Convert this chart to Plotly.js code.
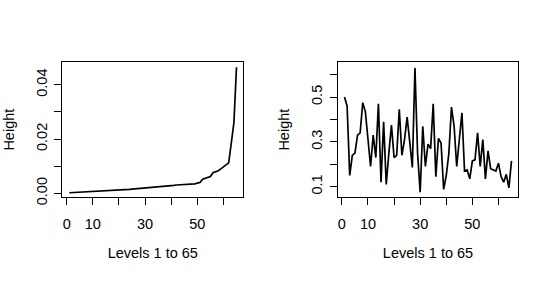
<!DOCTYPE html>
<html>
<head>
<meta charset="utf-8">
<script src="https://cdn.plot.ly/plotly-3.0.1.min.js"></script>
<style>html,body{margin:0;padding:0;background:#fff;}#chart{width:550px;height:292px;}</style>
</head>
<body>
<div id="chart"></div>
<script>
// Levels 1..65
const levels = Array.from({length: 65}, (_, i) => i + 1);

// Left panel: sorted merge heights
const heightsSorted = [
  0.00020, 0.00025, 0.00028, 0.00030, 0.00032, 0.00035, 0.00038, 0.00042, 0.00046, 0.00050,
  0.00055, 0.00060, 0.00065, 0.00070, 0.00076, 0.00082, 0.00090, 0.00098, 0.00105, 0.00112,
  0.00120, 0.00128, 0.00135, 0.00142, 0.00150, 0.00158, 0.00165, 0.00172, 0.00180, 0.00188,
  0.00195, 0.00200, 0.00205, 0.00212, 0.00220, 0.00230, 0.00242, 0.00252, 0.00262, 0.00272,
  0.00290, 0.00305, 0.00310, 0.00315, 0.00320, 0.00326, 0.00332, 0.00340, 0.00350, 0.00375,
  0.00400, 0.00520, 0.00545, 0.00570, 0.00620, 0.00760, 0.00790, 0.00830, 0.00900, 0.00970,
  0.01020, 0.01120, 0.01850, 0.02600, 0.04650
];

// Right panel: heights per level
const heightsLevel = [
  0.50, 0.46, 0.15, 0.24, 0.25, 0.33, 0.34, 0.475, 0.435, 0.30,
  0.19, 0.33, 0.23, 0.47, 0.12, 0.39, 0.11, 0.25, 0.375, 0.23,
  0.24, 0.445, 0.24, 0.31, 0.41, 0.30, 0.186, 0.63, 0.25, 0.075,
  0.37, 0.19, 0.29, 0.27, 0.47, 0.145, 0.315, 0.295, 0.088, 0.15,
  0.25, 0.455, 0.37, 0.19, 0.30, 0.43, 0.17, 0.175, 0.135, 0.215,
  0.22, 0.34, 0.19, 0.31, 0.135, 0.26, 0.18, 0.175, 0.17, 0.205,
  0.145, 0.12, 0.155, 0.095, 0.215
];

const xTickVals = [0, 10, 20, 30, 40, 50, 60];
const xTickText = ["0", "10", "", "30", "", "50", ""];
const yLeftTickVals = [0, 0.01, 0.02, 0.03, 0.04];
const yLeftTickText = ["0.00", "", "0.02", "", "0.04"];
const yRightTickVals = [0.1, 0.2, 0.3, 0.4, 0.5, 0.6];
const yRightTickText = ["0.1", "", "0.3", "", "0.5", ""];

const xTitle = "Levels 1 to 65";
const yTitle = "Height";

const font = {family: "Liberation Sans, Arial, Helvetica, sans-serif", size: 14.5, color: "#000"};

const traces = [
  {x: levels, y: heightsSorted, type: "scatter", mode: "lines", line: {color: "#000", width: 1.7}, xaxis: "x", yaxis: "y", hoverinfo: "skip"},
  {x: levels, y: heightsLevel, type: "scatter", mode: "lines", line: {color: "#000", width: 1.7}, xaxis: "x2", yaxis: "y2", hoverinfo: "skip"}
];

const common = {
  showline: true, mirror: true, linecolor: "#000", linewidth: 1,
  ticks: "outside", ticklen: 7, tickcolor: "#000", tickwidth: 1,
  showgrid: false, zeroline: false, tickfont: font, tickmode: "array"
};

const yDom = [1 - 197 / 292, 1 - 62.3 / 292];

const layout = {
  width: 550, height: 292,
  margin: {l: 0, r: 0, t: 0, b: 0},
  paper_bgcolor: "#fff", plot_bgcolor: "#fff",
  showlegend: false,
  font: font,
  xaxis: Object.assign({}, common, {
    domain: [62.3 / 550, 243.3 / 550], range: [-1.7, 67.6], anchor: "y",
    tickvals: xTickVals, ticktext: xTickText, ticklabelstandoff: 7,
    title: {text: xTitle, font: font, standoff: 16}
  }),
  yaxis: Object.assign({}, common, {
    domain: yDom, range: [-0.00137, 0.0483], anchor: "x",
    tickvals: yLeftTickVals, ticktext: yLeftTickText, tickangle: -90, ticklabelstandoff: 2,
    title: {text: yTitle, font: font, standoff: 15}
  }),
  xaxis2: Object.assign({}, common, {
    domain: [337.7 / 550, 518.3 / 550], range: [-1.6, 67.6], anchor: "y2",
    tickvals: xTickVals, ticktext: xTickText, ticklabelstandoff: 7,
    title: {text: xTitle, font: font, standoff: 16}
  }),
  yaxis2: Object.assign({}, common, {
    domain: yDom, range: [0.054, 0.655], anchor: "x2",
    tickvals: yRightTickVals, ticktext: yRightTickText, tickangle: -90, ticklabelstandoff: 2,
    title: {text: yTitle, font: font, standoff: 15}
  })
};

Plotly.newPlot("chart", traces, layout, {staticPlot: true, displayModeBar: false});
</script>
</body>
</html>
